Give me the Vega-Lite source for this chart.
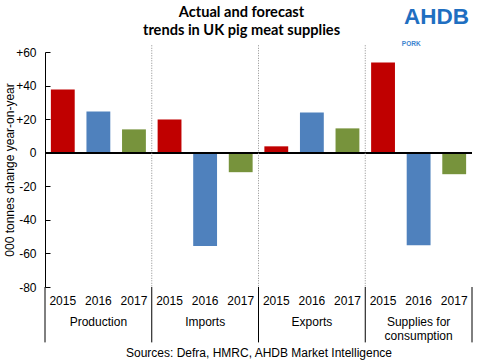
{
  "$schema": "https://vega.github.io/schema/vega-lite/v6.json",
  "width": 427,
  "height": 235,
  "autosize": {"type": "none"},
  "padding": {"left": 45, "top": 52, "right": 8, "bottom": 73},
  "background": "white",
  "title": {
    "text": ["Actual and forecast", "trends in UK pig meat supplies"],
    "font": "Lato",
    "fontSize": 14.6,
    "fontWeight": "bold",
    "color": "black",
    "anchor": "middle",
    "frame": "group",
    "dx": -17,
    "offset": -32,
    "lineHeight": 18
  },
  "config": {
    "view": {"stroke": null},
    "font": "Liberation Sans",
    "axis": {"labelFont": "Liberation Sans", "titleFont": "Liberation Sans", "labelColor": "black", "titleColor": "black", "labelFontSize": 12, "titleFontSize": 12, "titleFontWeight": "normal", "grid": false},
    "axisY": {"tickCount": 8, "labelOverlap": false, "tickSize": -5, "tickColor": "black", "domainColor": "black", "labelPadding": 14, "titlePadding": -1}
  },
  "datasets": {
    "bars": [
      {"key": "2015 Production", "year": "2015", "value": 37.7},
      {"key": "2016 Production", "year": "2016", "value": 24.6},
      {"key": "2017 Production", "year": "2017", "value": 13.9},
      {"key": "2015 Imports", "year": "2015", "value": 19.8},
      {"key": "2016 Imports", "year": "2016", "value": -55.6},
      {"key": "2017 Imports", "year": "2017", "value": -11.6},
      {"key": "2015 Exports", "year": "2015", "value": 3.8},
      {"key": "2016 Exports", "year": "2016", "value": 24.0},
      {"key": "2017 Exports", "year": "2017", "value": 14.5},
      {"key": "2015 Supplies", "year": "2015", "value": 53.8},
      {"key": "2016 Supplies", "year": "2016", "value": -55.1},
      {"key": "2017 Supplies", "year": "2017", "value": -12.8}
    ],
    "separators": [
      {"key": "2015 Imports"},
      {"key": "2015 Exports"},
      {"key": "2015 Supplies"}
    ],
    "boundaries": [
      {"key": "2015 Production"},
      {"key": "2015 Imports"},
      {"key": "2015 Exports"},
      {"key": "2015 Supplies"}
    ],
    "lastBoundary": [{"key": "2017 Supplies"}],
    "groups": [
      {"key": "2016 Production", "label": "Production"},
      {"key": "2016 Imports", "label": "Imports"},
      {"key": "2016 Exports", "label": "Exports"},
      {"key": "2016 Supplies", "label": "Supplies for\nconsumption"}
    ],
    "logo": [{"key": "2017 Supplies", "label": "AHDB"}],
    "logoSub": [{"key": "2016 Supplies", "label": "PORK"}]
  },
  "encoding": {
    "x": {
      "field": "key",
      "type": "nominal",
      "scale": {
        "domain": ["2015 Production", "2016 Production", "2017 Production", "2015 Imports", "2016 Imports", "2017 Imports", "2015 Exports", "2016 Exports", "2017 Exports", "2015 Supplies", "2016 Supplies", "2017 Supplies"],
        "paddingInner": 0,
        "paddingOuter": 0
      },
      "axis": {
        "labelExpr": "slice(datum.value, 0, 4)",
        "labelAngle": 0,
        "ticks": false,
        "domain": false,
        "labelPadding": 8,
        "title": "Sources: Defra, HMRC, AHDB Market Intelligence",
        "titlePadding": 41
      }
    }
  },
  "layer": [
    {
      "data": {"name": "bars"},
      "mark": {"type": "bar", "width": {"band": 0.67}},
      "encoding": {
        "y": {
          "field": "value",
          "type": "quantitative",
          "scale": {"domain": [-80, 60], "nice": false, "zero": false},
          "axis": {
            "values": [-80, -60, -40, -20, 0, 20, 40, 60],
            "labelExpr": "datum.value > 0 ? '+' + datum.label : replace(datum.label, '\u2212', '-')",
            "labelOverlap": false,
            "title": "000 tonnes change year-on-year"
          }
        },
        "color": {
          "field": "year",
          "type": "nominal",
          "scale": {"domain": ["2015", "2016", "2017"], "range": ["#C00000", "#4F81BD", "#77933C"]},
          "legend": null
        }
      }
    },
    {
      "data": {"name": "bars"},
      "mark": {"type": "rule", "color": "black", "strokeWidth": 1.5},
      "encoding": {"x": null, "y": {"datum": 0}}
    },
    {
      "data": {"name": "separators"},
      "mark": {"type": "rule", "color": "#8c8c8c", "strokeWidth": 1, "strokeDash": [1, 1.5]},
      "encoding": {
        "x": {"field": "key", "type": "nominal", "bandPosition": 0},
        "y": {"datum": 64},
        "y2": {"datum": -80}
      }
    },
    {
      "data": {"name": "boundaries"},
      "mark": {"type": "rule", "color": "black", "strokeWidth": 1},
      "encoding": {
        "x": {"field": "key", "type": "nominal", "bandPosition": 0},
        "y": {"datum": -80},
        "y2": {"datum": -113}
      }
    },
    {
      "data": {"name": "lastBoundary"},
      "mark": {"type": "rule", "color": "black", "strokeWidth": 1},
      "encoding": {
        "x": {"field": "key", "type": "nominal", "bandPosition": 1},
        "y": {"datum": -80},
        "y2": {"datum": -113}
      }
    },
    {
      "data": {"name": "groups"},
      "mark": {"type": "text", "font": "Liberation Sans", "fontSize": 12, "color": "black", "baseline": "top", "lineBreak": "\n", "lineHeight": 13.5},
      "encoding": {
        "x": {"field": "key", "type": "nominal"},
        "y": {"datum": -98},
        "text": {"field": "label"}
      }
    },
    {
      "data": {"name": "logo"},
      "mark": {"type": "text", "font": "Liberation Sans", "fontSize": 22.5, "fontWeight": "bold", "color": "#1f6fc1", "baseline": "middle"},
      "encoding": {
        "x": {"field": "key", "type": "nominal", "bandPosition": 0},
        "y": {"datum": 81},
        "text": {"field": "label"}
      }
    },
    {
      "data": {"name": "logoSub"},
      "mark": {"type": "text", "font": "Liberation Sans", "fontSize": 6.5, "fontWeight": "bold", "color": "#3d84cf", "baseline": "middle", "align": "left", "dx": 1},
      "encoding": {
        "x": {"field": "key", "type": "nominal", "bandPosition": 0},
        "y": {"datum": 65},
        "text": {"field": "label"}
      }
    }
  ]
}
